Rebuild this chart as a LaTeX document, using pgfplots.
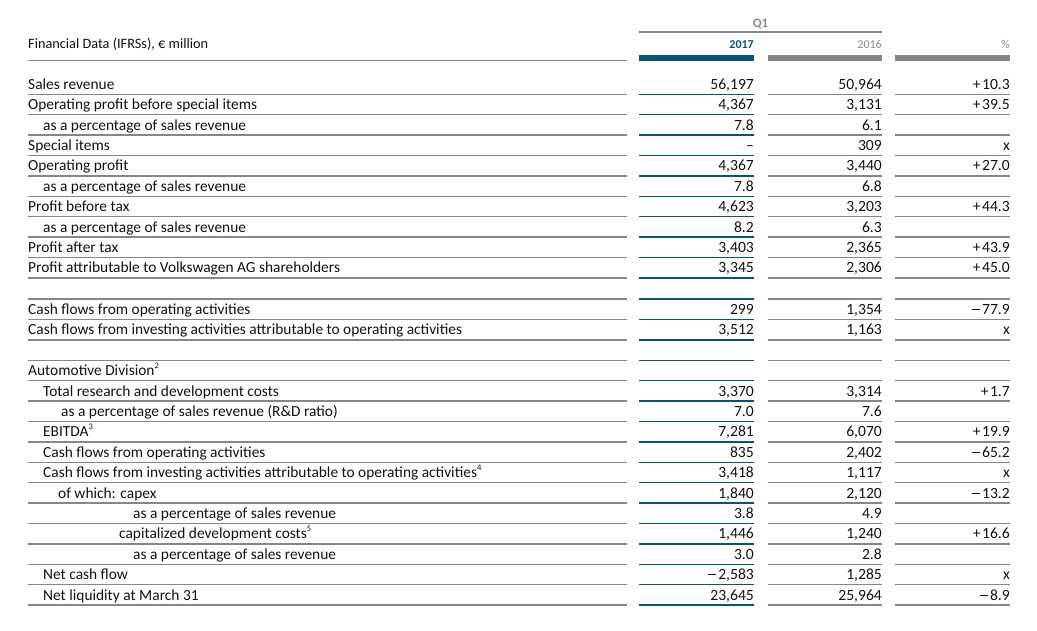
\documentclass[border=0pt]{standalone}
\usepackage{fontspec}
\setmainfont{Carlito}
\usepackage{pgfplots}
\usepackage{pgfplotstable}
\pgfplotsset{compat=1.18}
\definecolor{vwblue}{HTML}{0C5372}
\definecolor{rulegray}{HTML}{868686}
\definecolor{txt}{HTML}{111111}
\definecolor{hdrgray}{HTML}{8A8A8A}
\protected\def\fn#1{\raisebox{0.95ex}{\fontsize{8.5}{8.5}\selectfont #1}}
\protected\def\mn{\raisebox{0.27em}{\rule{0.52em}{0.075em}}\kern0.13em}

\pgfplotstableread[col sep=semicolon]{
y;ind;lab;a;b;c
89.2;28;Sales revenue;56,197;50,964;+\kern1.5pt10.3
109.6;28;Operating profit before special items;4,367;3,131;+\kern1.5pt39.5
130.0;43;as a percentage of sales revenue;7.8;6.1;{}
150.4;28;Special items;–;309;x
170.8;28;Operating profit;4,367;3,440;+\kern1.5pt27.0
191.2;43;as a percentage of sales revenue;7.8;6.8;{}
211.6;28;Profit before tax;4,623;3,203;+\kern1.5pt44.3
232.0;43;as a percentage of sales revenue;8.2;6.3;{}
252.4;28;Profit after tax;3,403;2,365;+\kern1.5pt43.9
272.8;28;Profit attributable to Volkswagen AG shareholders;3,345;2,306;+\kern1.5pt45.0
314.4;28;Cash flows from operating activities;299;1,354;\mn77.9
334.8;28;Cash flows from investing activities attributable to operating activities;3,512;1,163;x
375.6;28;Automotive Division\fn{2};{};{};{}
396.0;43;Total research and development costs;3,370;3,314;+\kern1.5pt1.7
416.4;61;as a percentage of sales revenue (R\&D ratio);7.0;7.6;{}
436.8;43;EBITDA\fn{3};7,281;6,070;+\kern1.5pt19.9
457.2;43;Cash flows from operating activities;835;2,402;\mn65.2
477.6;43;Cash flows from investing activities attributable to operating activities\fn{4};3,418;1,117;x
498.0;58;of which: capex;1,840;2,120;\mn13.2
518.4;133;as a percentage of sales revenue;3.8;4.9;{}
538.8;119;capitalized development costs\fn{5};1,446;1,240;+\kern1.5pt16.6
559.2;133;as a percentage of sales revenue;3.0;2.8;{}
579.6;43;Net cash flow;\mn2,583;1,285;x
600.0;43;Net liquidity at March 31;23,645;25,964;\mn8.9
}\datatab

\begin{document}
\begin{tikzpicture}
\begin{axis}[
  scale only axis, width=1037pt, height=630pt,
  xmin=0, xmax=1037, ymin=0, ymax=630, y dir=reverse,
  hide axis, clip=false,
  every axis plot/.append style={only marks, mark=*, mark size=0pt},
  nodes near coords, point meta=explicit symbolic,
]
\path (axis cs:0,0) rectangle (axis cs:1037,630);
% header
\node[anchor=base west, inner sep=0pt, text=txt, font=\fontsize{14.3}{16}\selectfont] at (axis cs:28,48.5) {Financial Data (IFRSs), € million};
\node[anchor=base, inner sep=0pt, text=hdrgray, font=\fontsize{13}{15}\selectfont\bfseries] at (axis cs:760.5,27) {Q1};
\draw[rulegray, line width=1.4pt] (axis cs:639,32) -- (axis cs:882,32);
\node[anchor=base east, inner sep=0pt, text=vwblue, font=\fontsize{12}{14}\selectfont\bfseries] at (axis cs:754,48.3) {2017};
\node[anchor=base east, inner sep=0pt, text=hdrgray, font=\fontsize{12}{14}\selectfont] at (axis cs:882,48.3) {2016};
\node[anchor=base east, inner sep=0pt, text=hdrgray, font=\fontsize{12}{14}\selectfont] at (axis cs:1010,48.3) {\%};
\draw[rulegray, line width=1.4pt] (axis cs:28,60.3) -- (axis cs:627,60.3);
\fill[vwblue] (axis cs:639,54.5) rectangle (axis cs:754,61);
\fill[rulegray] (axis cs:768,54.5) rectangle (axis cs:882,61);
\fill[rulegray] (axis cs:895,54.5) rectangle (axis cs:1010,61);
% row rules
\pgfplotsinvokeforeach{94.2,114.6,135.0,155.4,175.8,196.2,216.6,237.0,257.4,277.8,
  299.0,319.4,339.8,
  360.2,380.6,401.0,421.4,441.8,462.2,482.6,503.0,523.4,543.8,564.2,584.6,605.0}{
  \draw[rulegray, line width=1.4pt] (axis cs:28,#1) -- (axis cs:627,#1);
  \draw[vwblue, line width=1.4pt] (axis cs:639,#1) -- (axis cs:754,#1);
  \draw[rulegray, line width=1.4pt] (axis cs:768,#1) -- (axis cs:882,#1);
  \draw[rulegray, line width=1.4pt] (axis cs:895,#1) -- (axis cs:1010,#1);
}
% labels
\addplot[nodes near coords style={anchor=base west, inner sep=0pt, text=txt, font=\fontsize{15.4}{18}\selectfont}]
  table[x=ind, y=y, meta=lab] {\datatab};
% 2017
\addplot[nodes near coords style={anchor=base east, inner sep=0pt, text=txt, font=\fontsize{15.6}{18}\selectfont}]
  table[x expr=754, y=y, meta=a] {\datatab};
% 2016
\addplot[nodes near coords style={anchor=base east, inner sep=0pt, text=txt, font=\fontsize{15.6}{18}\selectfont}]
  table[x expr=882, y=y, meta=b] {\datatab};
% %
\addplot[nodes near coords style={anchor=base east, inner sep=0pt, text=txt, font=\fontsize{15.6}{18}\selectfont}]
  table[x expr=1010, y=y, meta=c] {\datatab};
\end{axis}
\end{tikzpicture}
\end{document}
